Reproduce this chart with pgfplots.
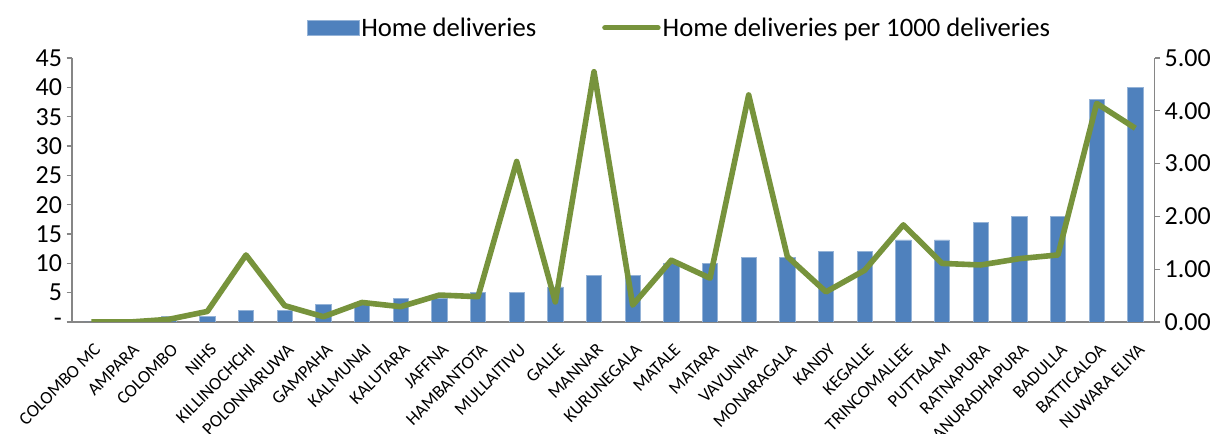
\documentclass[border=0pt]{standalone}
\usepackage{pgfplots}
\pgfplotsset{compat=1.18}
\usepackage{fontspec}
\setmainfont{Carlito}
\definecolor{barblue}{HTML}{4F81BD}
\definecolor{linegreen}{HTML}{77933C}
\definecolor{axgray}{HTML}{868686}
\begin{document}
\begin{tikzpicture}
\pgfplotsset{
  common/.style={
    at={(0,0)}, anchor=south west,
    scale only axis, width=812pt, height=198pt,
    xmin=-0.5, xmax=27.5,
    tick align=outside,
    axis line style={axgray, line width=0.8pt},
    major tick style={axgray, line width=0.8pt},
    minor tick style={axgray, line width=0.8pt},
    /pgf/number format/assume math mode=true,
    tick label style={font=\fontsize{19.5}{19.5}\selectfont, black},
  }
}
\begin{axis}[common,
  axis y line*=left, axis x line*=bottom,
  ymin=0, ymax=45, ytick={0,5,...,45},
  yticklabels={-,5,10,15,20,25,30,35,40,45},
  major tick length=4pt,
  xtick={0,...,27},
  x tick style={draw=none},
  minor xtick={-0.5,0.5,...,27.5},
  minor tick length=4pt,
  xticklabels={COLOMBO MC,AMPARA,COLOMBO,NIHS,KILLINOCHCHI,POLONNARUWA,GAMPAHA,KALMUNAI,KALUTARA,JAFFNA,HAMBANTOTA,MULLAITIVU,GALLE,MANNAR,KURUNEGALA,MATALE,MATARA,VAVUNIYA,MONARAGALA,KANDY,KEGALLE,TRINCOMALLEE,PUTTALAM,RATNAPURA,ANURADHAPURA,BADULLA,BATTICALOA,NUWARA ELIYA},
  x tick label style={font=\fontsize{13.5}{13.5}\selectfont, rotate=45, anchor=north east, inner sep=1pt, xshift=-6pt, yshift=-8pt},
  legend style={draw=none, at={(0.561,1.114)}, anchor=center, legend columns=2,
    font=\fontsize{20}{20}\selectfont, inner sep=0pt,
    nodes={inner sep=1.5pt},
    /tikz/every even column/.append style={column sep=48pt}},
  legend image code/.code={\fill[#1] (0pt,-5.5pt) rectangle (39pt,5.5pt);},
]
\addplot[ybar, bar width=11.5pt, fill=barblue, draw=barblue!60!white, line width=0.4pt] coordinates {
(0,0)(1,0)(2,1)(3,1)(4,2)(5,2)(6,3)(7,3)(8,4)(9,4)(10,5)(11,5)(12,6)(13,8)(14,8)(15,10)(16,10)(17,11)(18,11)(19,12)(20,12)(21,14)(22,14)(23,17)(24,18)(25,18)(26,38)(27,40)};
\addlegendentry{Home deliveries}
\addlegendimage{legend image code/.code={\draw[linegreen, line width=3.8pt, line cap=round] (1pt,0pt) -- (41pt,0pt);}}
\addlegendentry{Home deliveries per 1000 deliveries}
\end{axis}
\begin{axis}[common,
  axis y line*=right, axis x line=none,
  ymin=0, ymax=5, ytick={0,1,...,5},
  major tick length=4pt,
  yticklabel style={/pgf/number format/.cd, fixed, fixed zerofill, precision=2},
]
\addplot[linegreen, line width=4.2pt, line join=round, mark=none] coordinates {
(0,0)(1,0)(2,0.05)(3,0.2)(4,1.27)(5,0.31)(6,0.1)(7,0.37)(8,0.29)(9,0.51)(10,0.48)(11,3.04)(12,0.38)(13,4.74)(14,0.32)(15,1.17)(16,0.83)(17,4.30)(18,1.24)(19,0.57)(20,0.98)(21,1.84)(22,1.11)(23,1.08)(24,1.2)(25,1.27)(26,4.14)(27,3.67)};
\end{axis}
\pgfresetboundingbox
\path[use as bounding box] (-54pt,-84pt) rectangle (868.5pt,241.5pt);
\end{tikzpicture}
\end{document}
